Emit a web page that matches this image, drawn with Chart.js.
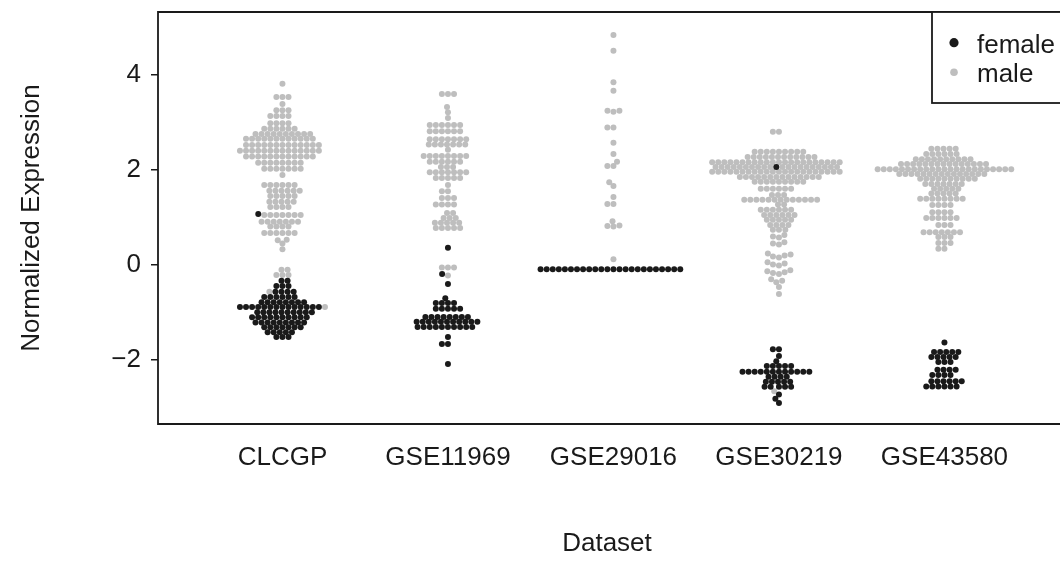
<!DOCTYPE html>
<html>
<head>
<meta charset="utf-8">
<script src="https://cdn.jsdelivr.net/npm/chart.js@4.4.1/dist/chart.umd.min.js"></script>
<style>
  html, body { margin: 0; padding: 0; background: #fff; overflow: hidden; }
</style>
</head>
<body>
<canvas id="swarmChart" width="1060" height="571"></canvas>
<script>
const categories = ["CLCGP", "GSE11969", "GSE29016", "GSE30219", "GSE43580"];
const yTicks = [-2, 0, 2, 4];
const sexLabels = ["female", "male"];

// normalized expression, one value per sample (~0.05 precision)
const clcgpFemale = [1.07, -0.33, -0.33, -0.44, -0.44, -0.44, -0.56, -0.56, -0.56, -0.56,
  -0.67, -0.67, -0.67, -0.67, -0.67, -0.67, -0.78, -0.78, -0.78, -0.78, -0.78, -0.78, -0.78, -0.78,
  -0.88, -0.88, -0.88, -0.88, -0.88, -0.88, -0.88, -0.88, -0.88, -0.88, -0.88, -0.88, -0.88, -0.88,
  -0.99, -0.99, -0.99, -0.99, -0.99, -0.99, -0.99, -0.99, -0.99, -0.99,
  -1.10, -1.10, -1.10, -1.10, -1.10, -1.10, -1.10, -1.10, -1.10, -1.10,
  -1.21, -1.21, -1.21, -1.21, -1.21, -1.21, -1.21, -1.21, -1.21,
  -1.31, -1.31, -1.31, -1.31, -1.31, -1.31, -1.31, -1.41, -1.41, -1.41, -1.41, -1.41, -1.51, -1.51, -1.51];
const clcgpMale = [3.81, 3.53, 3.53, 3.53, 3.38, 3.25, 3.25, 3.25, 3.13, 3.13, 3.13, 3.13,
  2.98, 2.98, 2.98, 2.98, 2.86, 2.86, 2.86, 2.86, 2.86, 2.86,
  2.75, 2.75, 2.75, 2.75, 2.75, 2.75, 2.75, 2.75, 2.75, 2.75,
  2.65, 2.65, 2.65, 2.65, 2.65, 2.65, 2.65, 2.65, 2.65, 2.65, 2.65, 2.65,
  2.52, 2.52, 2.52, 2.52, 2.52, 2.52, 2.52, 2.52, 2.52, 2.52, 2.52, 2.52, 2.52,
  2.40, 2.40, 2.40, 2.40, 2.40, 2.40, 2.40, 2.40, 2.40, 2.40, 2.40, 2.40, 2.40, 2.40,
  2.28, 2.28, 2.28, 2.28, 2.28, 2.28, 2.28, 2.28, 2.28, 2.28, 2.28, 2.28,
  2.15, 2.15, 2.15, 2.15, 2.15, 2.15, 2.15, 2.15, 2.02, 2.02, 2.02, 2.02, 2.02, 2.02, 2.02, 1.89,
  1.68, 1.68, 1.68, 1.68, 1.68, 1.68, 1.56, 1.56, 1.56, 1.56, 1.56, 1.56,
  1.45, 1.45, 1.45, 1.45, 1.45, 1.33, 1.33, 1.33, 1.33, 1.33, 1.22, 1.22, 1.22, 1.22,
  1.05, 1.05, 1.05, 1.05, 1.05, 1.05, 1.05, 0.91, 0.91, 0.91, 0.91, 0.91, 0.91, 0.91,
  0.81, 0.81, 0.81, 0.81, 0.67, 0.67, 0.67, 0.67, 0.67, 0.67, 0.53, 0.52, 0.45, 0.33,
  -0.10, -0.10, -0.21, -0.21, -0.21, -0.56, -0.88];

const gse11969Female = [0.36, -0.19, -0.40, -0.70, -0.80, -0.80, -0.80, -0.80,
  -0.92, -0.92, -0.92, -0.92, -0.92, -1.09, -1.09, -1.09, -1.09, -1.09, -1.09, -1.09, -1.09,
  -1.19, -1.19, -1.19, -1.19, -1.19, -1.19, -1.19, -1.19, -1.19, -1.19, -1.19,
  -1.30, -1.30, -1.30, -1.30, -1.30, -1.30, -1.30, -1.30, -1.30, -1.30, -1.51, -1.66, -1.66, -2.08];
const gse11969Male = [3.59, 3.59, 3.59, 3.32, 3.21, 3.09,
  2.94, 2.94, 2.94, 2.94, 2.94, 2.94, 2.81, 2.81, 2.81, 2.81, 2.81, 2.81,
  2.64, 2.64, 2.64, 2.64, 2.64, 2.64, 2.64, 2.53, 2.53, 2.53, 2.53, 2.53, 2.53, 2.53, 2.42,
  2.29, 2.29, 2.29, 2.29, 2.29, 2.29, 2.29, 2.29, 2.17, 2.17, 2.17, 2.17, 2.17, 2.17, 2.06, 2.06, 2.06,
  1.95, 1.95, 1.95, 1.95, 1.95, 1.95, 1.95, 1.83, 1.83, 1.83, 1.83, 1.83, 1.68, 1.55, 1.55,
  1.41, 1.41, 1.41, 1.27, 1.27, 1.27, 1.27, 1.09, 1.09, 0.99, 0.99, 0.99,
  0.89, 0.89, 0.89, 0.89, 0.89, 0.78, 0.78, 0.78, 0.78, 0.78, -0.05, -0.05, -0.05, -0.22];

const gse29016Female = [-0.09, -0.09, -0.09, -0.09, -0.09, -0.09, -0.09, -0.09, -0.09, -0.09, -0.09, -0.09,
  -0.09, -0.09, -0.09, -0.09, -0.09, -0.09, -0.09, -0.09, -0.09, -0.09, -0.09, -0.09];
const gse29016Male = [4.83, 4.50, 3.84, 3.66, 3.24, 3.22, 3.24, 2.89, 2.89, 2.57, 2.33, 2.17, 2.08, 2.08,
  1.74, 1.66, 1.43, 1.28, 1.28, 0.92, 0.82, 0.83, 0.81, 0.12];

const gse30219Female = [2.06, -1.77, -1.77, -1.91, -2.02, -2.12, -2.12, -2.12, -2.12, -2.12,
  -2.24, -2.24, -2.24, -2.24, -2.24, -2.24, -2.24, -2.24, -2.24, -2.24, -2.24, -2.24,
  -2.35, -2.35, -2.35, -2.35, -2.45, -2.45, -2.45, -2.45, -2.45, -2.56, -2.56, -2.56, -2.56, -2.56,
  -2.72, -2.81, -2.90];
const gse30219Male = [2.80, 2.80,
  2.38, 2.38, 2.38, 2.38, 2.38, 2.38, 2.38, 2.38, 2.38,
  2.27, 2.27, 2.27, 2.27, 2.27, 2.27, 2.27, 2.27, 2.27, 2.27, 2.27, 2.27,
  2.16, 2.16, 2.16, 2.16, 2.16, 2.16, 2.16, 2.16, 2.16, 2.16, 2.16, 2.16, 2.16, 2.16, 2.16, 2.16, 2.16, 2.16, 2.16, 2.16, 2.16, 2.16,
  2.06, 2.06, 2.06, 2.06, 2.06, 2.06, 2.06, 2.06, 2.06, 2.06, 2.06, 2.06, 2.06, 2.06, 2.06, 2.06, 2.06, 2.06, 2.06, 2.06,
  1.96, 1.96, 1.96, 1.96, 1.96, 1.96, 1.96, 1.96, 1.96, 1.96, 1.96, 1.96, 1.96, 1.96, 1.96, 1.96, 1.96, 1.96, 1.96, 1.96, 1.96, 1.96,
  1.85, 1.85, 1.85, 1.85, 1.85, 1.85, 1.85, 1.85, 1.85, 1.85, 1.85, 1.85, 1.85, 1.85,
  1.75, 1.75, 1.75, 1.75, 1.75, 1.75, 1.75, 1.75, 1.75, 1.60, 1.60, 1.60, 1.60, 1.60, 1.60, 1.47, 1.47, 1.47,
  1.37, 1.37, 1.37, 1.37, 1.37, 1.37, 1.37, 1.37, 1.37, 1.37, 1.37, 1.37, 1.37, 1.27, 1.27,
  1.16, 1.16, 1.16, 1.16, 1.16, 1.16, 1.05, 1.05, 1.05, 1.05, 1.05, 1.05, 0.95, 0.95, 0.95, 0.95, 0.95,
  0.84, 0.84, 0.84, 0.84, 0.74, 0.74, 0.74, 0.63, 0.60, 0.58, 0.48, 0.45, 0.43,
  0.24, 0.22, 0.20, 0.18, 0.16, 0.06, 0.03, 0.01, -0.01, -0.11, -0.13, -0.15, -0.17, -0.19,
  -0.30, -0.33, -0.36, -0.46, -0.61, -2.65];

const gse43580Female = [-1.63, -1.83, -1.83, -1.83, -1.83, -1.83, -1.93, -1.93, -1.93, -1.93, -1.93,
  -2.04, -2.04, -2.04, -2.20, -2.20, -2.20, -2.20, -2.31, -2.31, -2.31, -2.31,
  -2.44, -2.44, -2.44, -2.44, -2.44, -2.44, -2.55, -2.55, -2.55, -2.55, -2.55, -2.55];
const gse43580Male = [2.44, 2.44, 2.44, 2.44, 2.44, 2.33, 2.33, 2.33, 2.33, 2.33, 2.33,
  2.22, 2.22, 2.22, 2.22, 2.22, 2.22, 2.22, 2.22, 2.22, 2.22,
  2.12, 2.12, 2.12, 2.12, 2.12, 2.12, 2.12, 2.12, 2.12, 2.12, 2.12, 2.12, 2.12, 2.12, 2.12,
  2.01, 2.01, 2.01, 2.01, 2.01, 2.01, 2.01, 2.01, 2.01, 2.01, 2.01, 2.01, 2.01, 2.01, 2.01, 2.01,
  2.01, 2.01, 2.01, 2.01, 2.01, 2.01, 2.01,
  1.91, 1.91, 1.91, 1.91, 1.91, 1.91, 1.91, 1.91, 1.91, 1.91, 1.91, 1.91, 1.91, 1.91, 1.91,
  1.81, 1.81, 1.81, 1.81, 1.81, 1.81, 1.81, 1.81, 1.81, 1.81,
  1.70, 1.70, 1.70, 1.70, 1.70, 1.70, 1.70, 1.60, 1.60, 1.60, 1.60, 1.60, 1.50, 1.50, 1.50, 1.50, 1.50,
  1.39, 1.39, 1.39, 1.39, 1.39, 1.39, 1.39, 1.39, 1.26, 1.26, 1.26, 1.26, 1.11, 1.11, 1.11, 1.11,
  0.99, 0.99, 0.99, 0.99, 0.99, 0.99, 0.84, 0.84, 0.84, 0.69, 0.69, 0.69, 0.69, 0.69, 0.69, 0.69,
  0.59, 0.59, 0.59, 0.46, 0.46, 0.46, 0.34, 0.34];

const femaleByGroup = [clcgpFemale, gse11969Female, gse29016Female, gse30219Female, gse43580Female];
const maleByGroup = [clcgpMale, gse11969Male, gse29016Male, gse30219Male, gse43580Male];

// beeswarm ("swarm") placement: each point goes to the free spot nearest the group centre,
// left side first on ties
const PX_PER_X = 166.25, PX_PER_Y = 47.6, DOT_X = 6.1, DOT_Y = 5.3;
function swarmOffsets(values) {
  const order = values.map((v, i) => i).sort((a, b) => values[a] - values[b]);
  const placed = [];
  const out = new Array(values.length);
  order.forEach(i => {
    const y = values[i] * PX_PER_Y;
    const near = placed.filter(p => Math.abs(p.y - y) < DOT_Y);
    const cands = [0];
    near.forEach(p => {
      const t = (p.y - y) / DOT_Y;
      const dx = DOT_X * Math.sqrt(1 - t * t);
      cands.push(p.x - dx, p.x + dx);
    });
    cands.sort((a, b) => (Math.abs(a) - Math.abs(b)) || (a - b));
    let best = cands.find(c => near.every(p => ((p.x - c) / DOT_X) ** 2 + ((p.y - y) / DOT_Y) ** 2 >= 0.999));
    if (best === undefined) best = 0;
    placed.push({ x: best, y });
    out[i] = best / PX_PER_X;
  });
  return out;
}

const femalePoints = [], malePoints = [];
categories.forEach((cat, g) => {
  const f = femaleByGroup[g], m = maleByGroup[g];
  const all = f.concat(m);
  const offs = swarmOffsets(all);
  all.forEach((v, i) => {
    const pt = { x: g + 1 + offs[i], y: v };
    if (i < f.length) femalePoints.push(pt); else malePoints.push(pt);
  });
});

const FONT = "'Liberation Sans', Arial, Helvetica, sans-serif";
const INK = '#1a1a1a';

const frameAndKey = {
  id: 'frameAndKey',
  afterDraw(chart) {
    const { ctx, chartArea: a } = chart;
    ctx.save();
    ctx.strokeStyle = INK;
    ctx.lineWidth = 1.8;
    ctx.beginPath();
    ctx.moveTo(chart.width + 5, a.top);
    ctx.lineTo(a.left, a.top);
    ctx.lineTo(a.left, a.bottom);
    ctx.lineTo(chart.width + 5, a.bottom);
    ctx.stroke();
    // legend box in the top-right corner
    ctx.fillStyle = '#fff';
    ctx.fillRect(932, a.top, 140, 91);
    ctx.strokeRect(932, a.top, 140, 91);
    ctx.beginPath();
    ctx.fillStyle = INK;
    ctx.arc(954, 42.7, 4.6, 0, Math.PI * 2);
    ctx.fill();
    ctx.beginPath();
    ctx.fillStyle = '#bebebe';
    ctx.arc(954, 72.3, 3.8, 0, Math.PI * 2);
    ctx.fill();
    ctx.fillStyle = INK;
    ctx.font = '26px ' + FONT;
    ctx.textBaseline = 'alphabetic';
    ctx.textAlign = 'left';
    ctx.fillText(sexLabels[0], 977, 52.5);
    ctx.fillText(sexLabels[1], 977, 81.7);
    ctx.restore();
  }
};

new Chart(document.getElementById('swarmChart'), {
  type: 'scatter',
  data: {
    datasets: [
      { label: sexLabels[0], data: femalePoints, backgroundColor: INK, pointRadius: 3.0, borderWidth: 0 },
      { label: sexLabels[1], data: malePoints, backgroundColor: '#bebebe', pointRadius: 3.0, borderWidth: 0 }
    ]
  },
  options: {
    responsive: false,
    animation: false,
    devicePixelRatio: 1,
    layout: { padding: { top: 12, right: 0, left: 0, bottom: 0 } },
    plugins: { legend: { display: false }, tooltip: { enabled: false } },
    scales: {
      x: {
        type: 'linear',
        min: 0.248,
        max: 5.674,
        afterBuildTicks: s => { s.ticks = categories.map((c, i) => ({ value: i + 1 })); },
        afterFit: s => { s.height = 147; s.paddingLeft = 0; s.paddingRight = 0; },
        ticks: {
          callback: v => categories[v - 1],
          font: { family: FONT, size: 26 },
          color: INK,
          padding: 18,
          maxRotation: 0,
          autoSkip: false
        },
        grid: { display: false, drawTicks: false },
        border: { display: false },
        title: {
          display: true,
          text: 'Dataset',
          font: { family: FONT, size: 26 },
          color: INK,
          padding: { top: 0, bottom: 12 }
        }
      },
      y: {
        min: -3.34,
        max: 5.315,
        afterBuildTicks: s => { s.ticks = yTicks.map(v => ({ value: v })); },
        afterFit: s => { s.width = 158; s.paddingTop = 0; s.paddingBottom = 0; },
        ticks: {
          callback: v => (v < 0 ? '\u2212' + Math.abs(v) : String(v)),
          font: { family: FONT, size: 26 },
          color: INK,
          padding: 10
        },
        grid: { drawOnChartArea: false, drawTicks: true, tickLength: 7, color: INK, lineWidth: 1.5 },
        border: { display: false },
        title: {
          display: true,
          text: 'Normalized Expression',
          font: { family: FONT, size: 26 },
          color: INK,
          padding: { top: 16, bottom: 0 }
        }
      }
    }
  },
  plugins: [frameAndKey]
});
</script>
</body>
</html>
